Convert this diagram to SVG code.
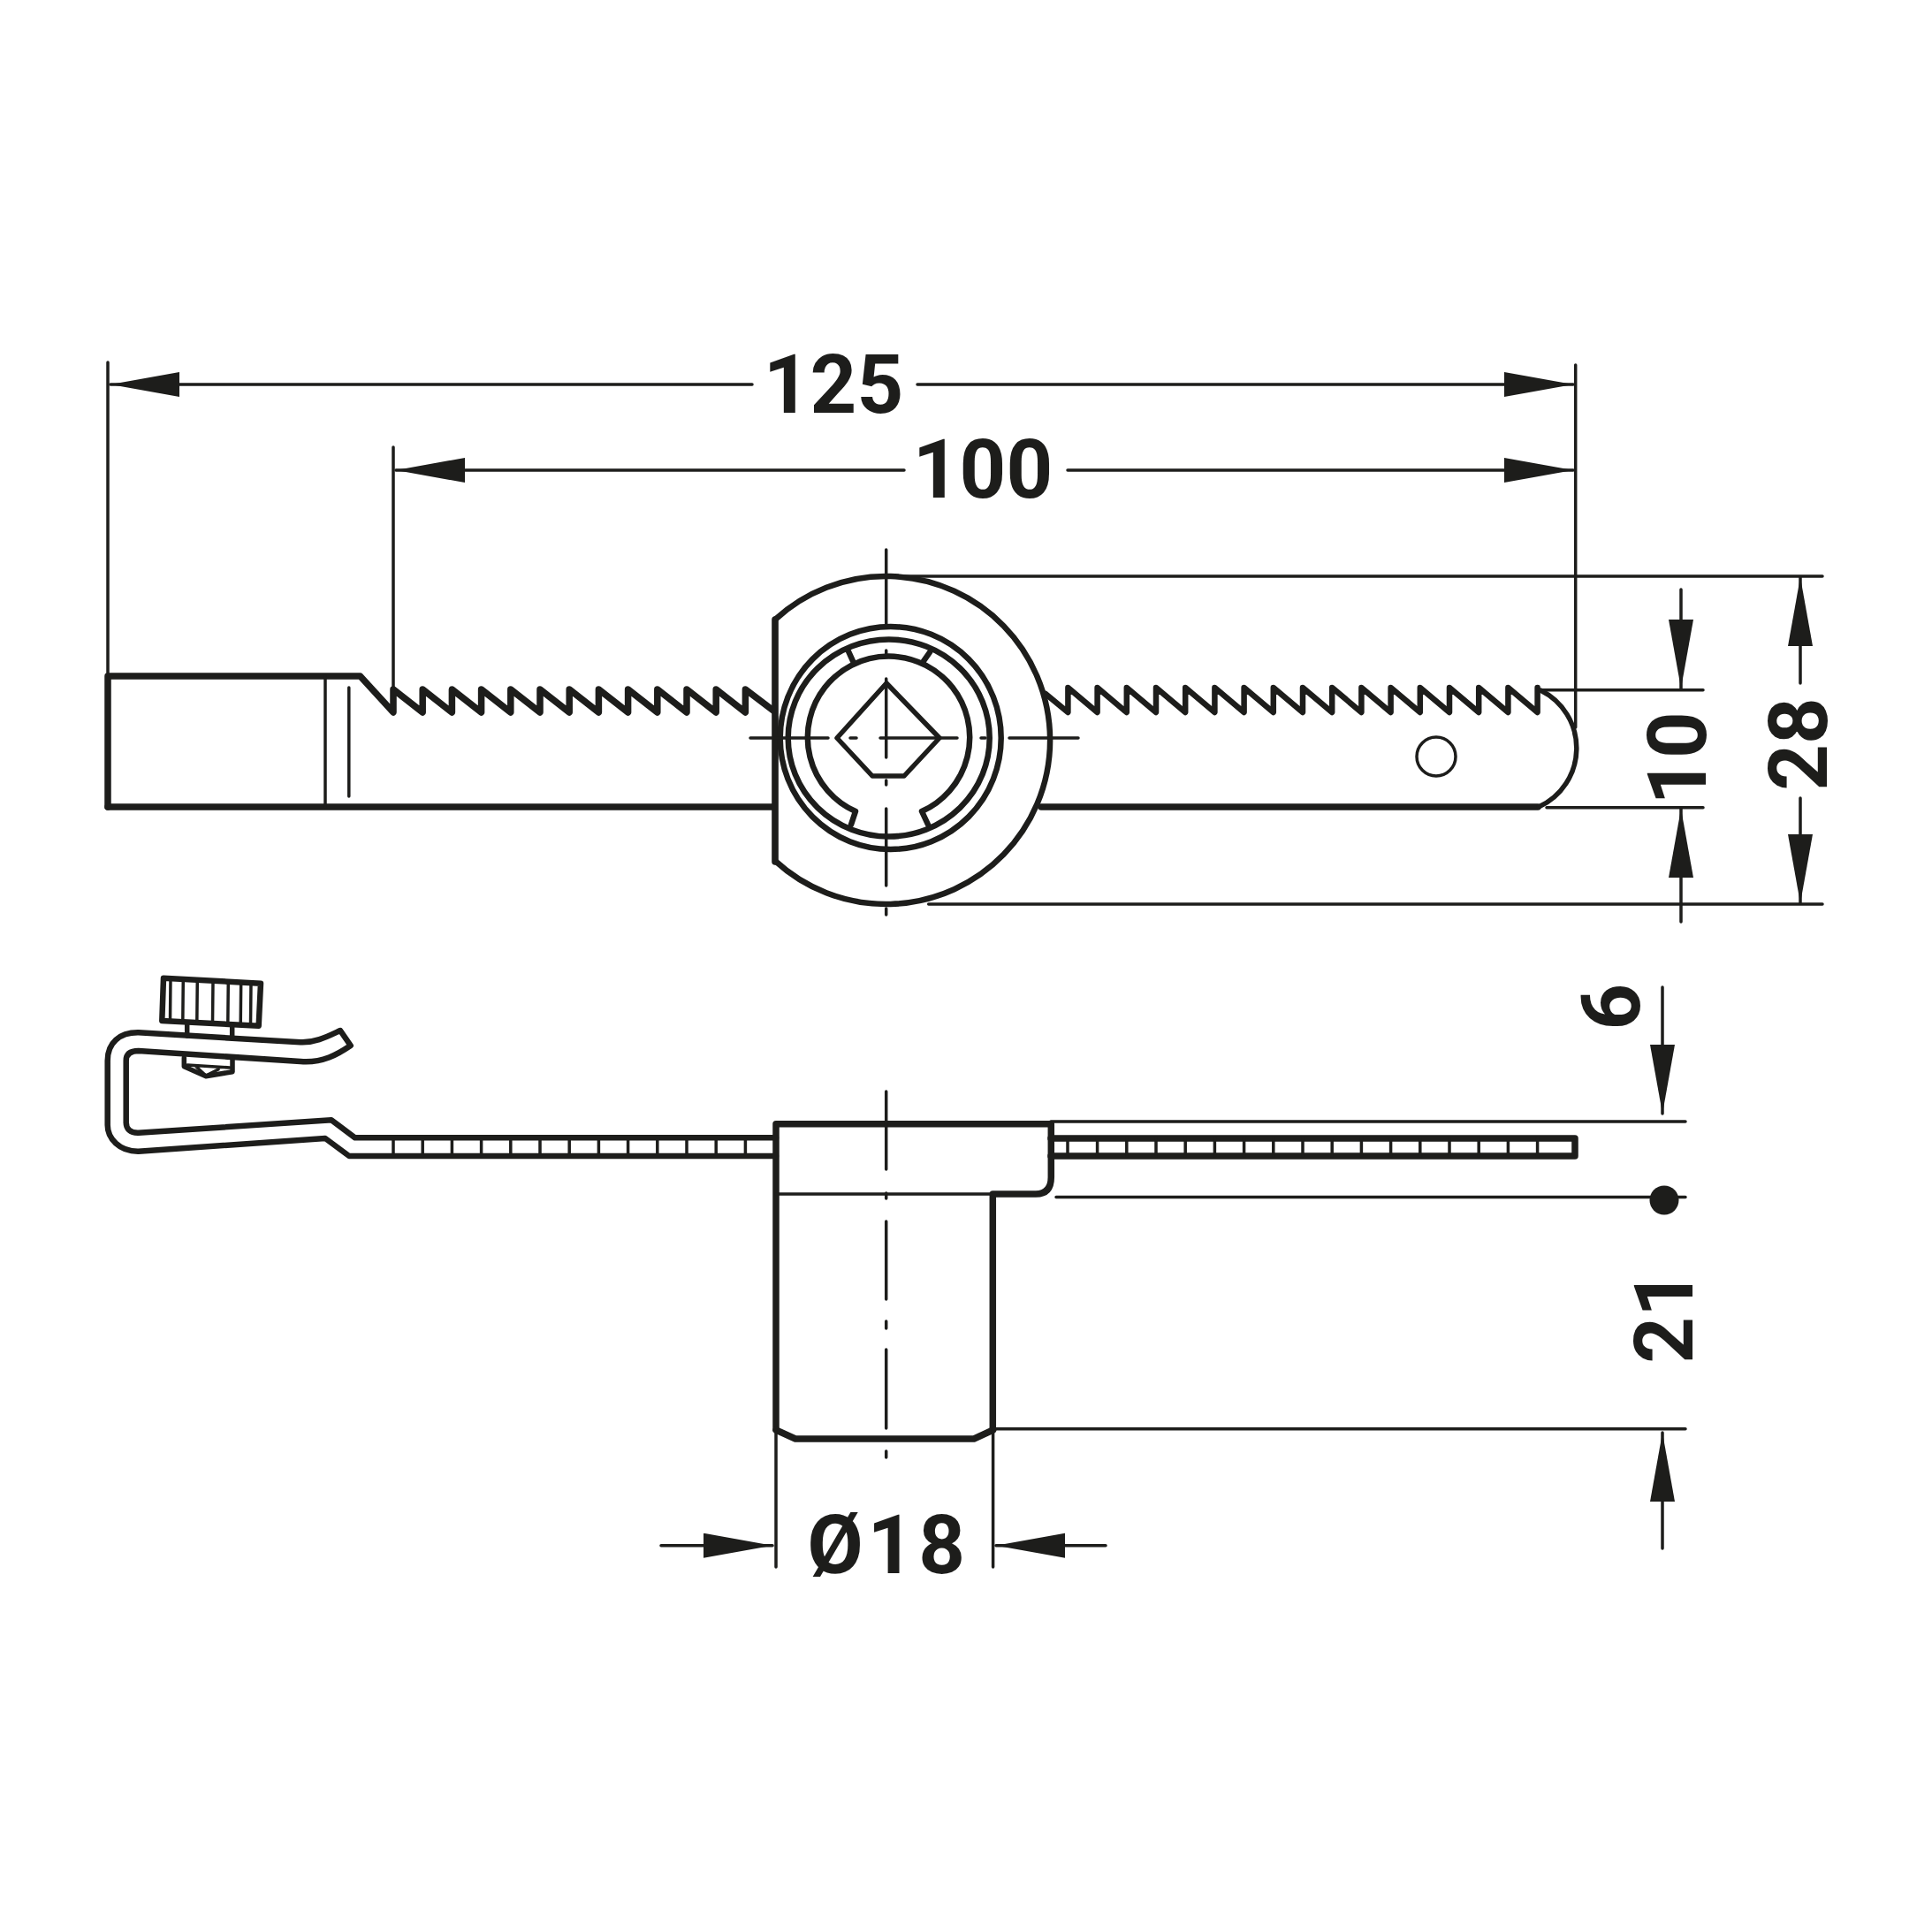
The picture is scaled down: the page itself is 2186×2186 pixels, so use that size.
<svg xmlns="http://www.w3.org/2000/svg" width="2186" height="2186" viewBox="0 0 2186 2186">
<style>
.o{fill:none;stroke:#1d1d1b;stroke-linejoin:round;stroke-linecap:round}
.h{stroke-width:7.5}
.r{stroke-width:6.5}
.m{stroke-width:5.5}
.t{stroke-width:3.5}
text{font-family:Roboto,"Liberation Sans",Arial,sans-serif;font-weight:700;font-size:92px;fill:#1d1d1b;text-anchor:middle}
</style>
<defs>
<marker id="arr" markerUnits="userSpaceOnUse" markerWidth="80" markerHeight="30" refX="78" refY="14" orient="auto"><path d="M0,0L78,14L0,28z" fill="#1d1d1b"/></marker>
</defs>
<rect width="2186" height="2186" fill="#fff"/>
<g id="top-view">
<path class="o h" d="M122,913V765H407.5L445,806V780L478.2,806V780L511.4,806V780L544.6,806V780L577.8,806V780L611,806V780L644.2,806V780L677.4,806V780L710.6,806V780L743.8,806V780L777,806V780L810.2,806V780L843.4,806V780L875,804"/>
<path class="o h" d="M122,913H875"/>
<path class="o t" d="M368,765V913M394.8,778V901"/>
<path class="o r" d="M1183,785L1208.4,806V778L1241.6,806V778L1274.8,806V778L1308,806V778L1341.2,806V778L1374.4,806V778L1407.6,806V778L1440.8,806V778L1474,806V778L1507.2,806V778L1540.4,806V778L1573.6,806V778L1606.8,806V778L1640,806V778L1673.2,806V778L1706.4,806V778L1739.6,806V778"/>
<path class="o h" d="M1178,913H1740"/>
<path class="o m" d="M1743,781A73,73 0 0 1 1741,913"/>
<circle class="o t" cx="1625" cy="856" r="22"/>
</g>
<g id="lock-front">
<path class="o r" d="M877,975V701A185.5,185.5 0 1 1 877,974Z"/>
<path class="o h" d="M877,701V975"/>
<ellipse class="o r" cx="1007.7" cy="835" rx="125" ry="126"/>
<ellipse class="o r" cx="1005.7" cy="835" rx="114" ry="111.5"/>
<path class="o r" d="M963,933L968,918A91.7,91.7 0 1 1 1043,918L1050,933M960,737L965,748M1052,738L1045,748"/>
<path class="o m" d="M1003,773L1063,835L1023,878H987L947,835Z"/>
<path class="o t" d="M1002.7,622V708M1002.7,736V740M1002.7,768V857M1002.7,883V888M1002.7,915V1002M1002.7,1028V1035M849,835H937M962,835H969M996,835H1083M1110,835H1115M1142,835H1220"/>
</g>
<g id="side-view">
<path class="o h" d="M878,1617V1271.7H1189.3V1332Q1189.3,1351 1172,1351H1123.3V1617"/>
<path class="o h" d="M878,1618L900,1628H1102L1123.6,1618"/>
<path class="o t" d="M878,1351H1121"/>
<path class="o t" d="M1002.7,1235V1323M1002.7,1350V1356M1002.7,1382V1470M1002.7,1495V1503M1002.7,1527V1616M1002.7,1642V1649"/>
<path class="o h" d="M1189,1288H1782V1308H1189"/>
<path class="o t" d="M1208,1288V1308M1241.6,1288V1308M1274.8,1288V1308M1308,1288V1308M1341.2,1288V1308M1374.4,1288V1308M1407.6,1288V1308M1440.8,1288V1308M1474,1288V1308M1507.2,1288V1308M1540.4,1288V1308M1573.6,1288V1308M1606.8,1288V1308M1640,1288V1308M1673.2,1288V1308M1706.4,1288V1308M1739.6,1288V1308"/>
<path class="o t" d="M445,1288V1308M478.2,1288V1308M511.4,1288V1308M544.6,1288V1308M577.8,1288V1308M611,1288V1308M644.2,1288V1308M677.4,1288V1308M710.6,1288V1308M743.8,1288V1308M777,1288V1308M810.2,1288V1308M843.4,1288V1308"/>
</g>
<g id="spring-clip">
<path class="o r" d="M878,1308H395L368,1288L156.7,1302.7C135,1303 121.7,1288 121.7,1273V1200C121.7,1180 135,1168 156.7,1168.3L340,1179.3C357,1180 370,1173 385,1166L396.7,1183C382,1193 365,1203 340,1201L156.7,1189C147,1189 142.7,1193 142.7,1200V1270C142.7,1277 147,1282 156.7,1281.7L375,1267.3L401.7,1287.3H878"/>
</g>
<g id="thumb-screw">
<path class="o r" d="M185,1106.7L295,1112.7L292.7,1160.7L183.3,1155Z"/>
<path class="o t" d="M193,1107L192.5,1155.5M207.3,1108L206.8,1156M223.3,1109L222.8,1157M241,1110L240.5,1158M258.3,1111L257.8,1158.7M272.7,1111.5L272.2,1159.5M284,1112L283.5,1160"/>
<path class="o m" d="M211.7,1158V1172M262.7,1160V1175"/>
<path class="o m" d="M208.3,1197V1206.7L233,1217.7L263,1212.7V1198"/>
<path class="o t" d="M212,1205L260,1208M222,1207L233,1217L247,1210"/>
</g>
<g id="connectors">
<path class="o t" d="M122,410V765M445,506V780M1782.7,413V823M1003,652H2062M1050.7,1023H2062M1742,780.7H1927M1750,913.7H1927M1189,1269H1907M1195,1354.5H1907M1123,1616.7H1907M878,1618V1773M1123.6,1618V1773"/>
<line class="o t" x1="851" y1="435" x2="125" y2="435" marker-end="url(#arr)"/>
<line class="o t" x1="1038" y1="435" x2="1780" y2="435" marker-end="url(#arr)"/>
<line class="o t" x1="1023" y1="532" x2="448" y2="532" marker-end="url(#arr)"/>
<line class="o t" x1="1208" y1="532" x2="1780" y2="532" marker-end="url(#arr)"/>
<line class="o t" x1="1902" y1="667" x2="1902" y2="779" marker-end="url(#arr)"/>
<line class="o t" x1="1902" y1="1043" x2="1902" y2="915" marker-end="url(#arr)"/>
<line class="o t" x1="2037" y1="773" x2="2037" y2="653" marker-end="url(#arr)"/>
<line class="o t" x1="2037" y1="903" x2="2037" y2="1022" marker-end="url(#arr)"/>
<line class="o t" x1="1881" y1="1117" x2="1881" y2="1260" marker-end="url(#arr)"/>
<line class="o t" x1="1881" y1="1752" x2="1881" y2="1621" marker-end="url(#arr)"/>
<line class="o t" x1="748" y1="1748.7" x2="874" y2="1748.7" marker-end="url(#arr)"/>
<line class="o t" x1="1251" y1="1748.7" x2="1127" y2="1748.7" marker-end="url(#arr)"/>
<circle cx="1883" cy="1358" r="16.5" fill="#1d1d1b"/>
</g>
<g id="labels">
<text x="943" y="467">125</text>
<text x="1112" y="563">100</text>
<text x="1005" y="1780" letter-spacing="5">Ø18</text>
<text transform="translate(1930,858) rotate(-90)">10</text>
<text transform="translate(2067,842) rotate(-90)">28</text>
<text transform="translate(1855,1139) rotate(-90)">6</text>
<text transform="translate(1915,1490) rotate(-90)">21</text>
</g>
</svg>
